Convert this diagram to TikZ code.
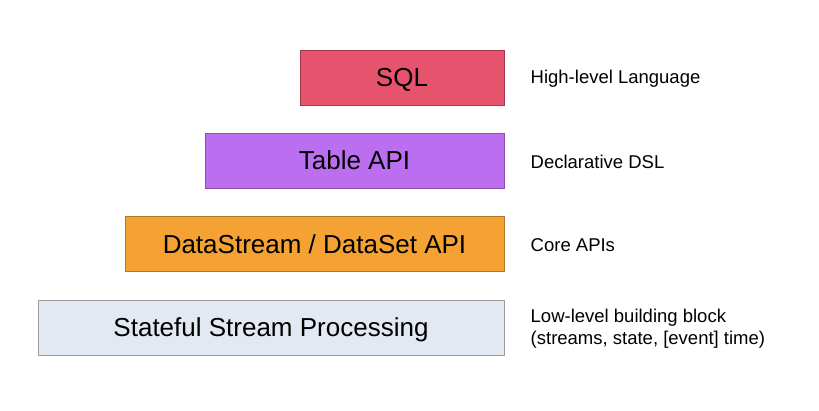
\documentclass[tikz,border=0pt]{standalone}
\usepackage{fontspec}
\setmainfont{Liberation Sans}
\usetikzlibrary{positioning}
\definecolor{sqlred}{HTML}{E5536D}
\definecolor{sqlline}{HTML}{9E3A4C}
\definecolor{tablepurple}{HTML}{BB6FF0}
\definecolor{tableline}{HTML}{8A50B2}
\definecolor{streamorange}{HTML}{F4A233}
\definecolor{streamline}{HTML}{B5772B}
\definecolor{statefulgray}{HTML}{E3E9F3}
\definecolor{statefulline}{HTML}{9A9A9A}
\tikzset{
  layer/.style={draw, line width=1pt, minimum height=55pt, inner sep=0pt,
    text height=18.6pt, text depth=0pt,
    font=\fontsize{26}{31}\selectfont},
  note/.style={inner sep=0pt, align=left, right=26pt of #1, yshift=-1.5pt,
    font=\fontsize{18.5}{22}\selectfont}
}
\begin{document}
\begin{tikzpicture}[x=1pt,y=-1pt]
\useasboundingbox[fill=white] (0,0) rectangle (819,410);
% layers, widest at the bottom
\node[layer, fill=sqlred, draw=sqlline, minimum width=204pt] (sql) at (402,77.5) {SQL};
\node[layer, fill=tablepurple, draw=tableline, minimum width=299pt] (table) at (354.5,160.5) {Table API};
\node[layer, fill=streamorange, draw=streamline, minimum width=379pt] (datastream) at (314.5,244) {DataStream / DataSet API};
\node[layer, fill=statefulgray, draw=statefulline, minimum width=466pt] (stateful) at (271,327.5) {Stateful Stream Processing};
% descriptions
\node[note=sql] (sqlnote) {High-level Language};
\node[note=table] (tablenote) {Declarative DSL};
\node[note=datastream] (datastreamnote) {Core APIs};
\node[note=stateful] (statefulnote) {Low-level building block\\(streams, state, [event] time)};
\end{tikzpicture}
\end{document}
